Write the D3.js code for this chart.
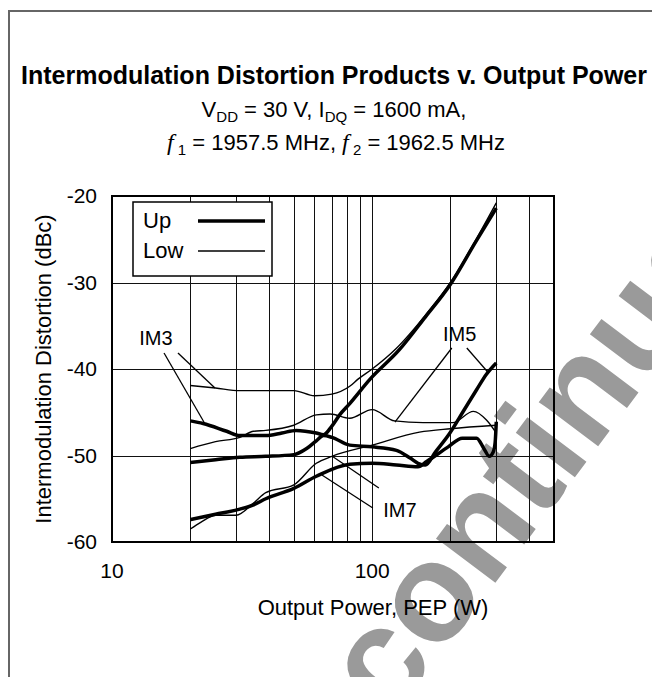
<!DOCTYPE html>
<html>
<head>
<meta charset="utf-8">
<script src="https://cdn.jsdelivr.net/npm/d3@7"></script>
<style>
  body { margin: 0; background: #fff; }
  svg text { font-family: "Liberation Sans", Arial, sans-serif; fill: #000; }
</style>
</head>
<body>
<div id="chart"></div>
<script>
// tick values
var xTicks = [10, 100];
var xGrid = [20, 30, 40, 50, 60, 70, 80, 90, 100, 200, 300, 400];
var yTicks = [-60, -50, -40, -30, -20];

// [output power W, dBc]
var im3Up = [[20,-46.0],[22.4,-46.3],[27.6,-47.2],[31,-47.7],[39,-47.7],[45,-47.4],[51,-47.1],[61,-47.4],[65,-47.6],[70,-46.6],[75,-45.3],[82,-44.0],[98,-41.2],[127,-37.8],[160,-34.0],[200,-30.2],[250,-25.3],[300,-21.4]];
var im3Low = [[20,-41.9],[25,-42.2],[31,-42.5],[40,-42.5],[50,-42.5],[60,-43.1],[70,-42.9],[82,-42.0],[88,-41.2],[100,-40.0],[124,-37.6],[160,-33.8],[200,-30.0],[250,-25.1],[300,-20.8]];
var im5Up = [[20,-50.8],[25,-50.5],[31,-50.2],[39,-50.1],[50,-49.9],[56,-49.2],[61,-48.3],[65,-47.7],[70,-47.9],[82,-48.8],[100,-49.0],[124,-49.4],[140,-50.3],[150,-50.9],[160,-51.1],[175,-49.6],[199,-47.4],[225,-44.8],[252,-42.4],[275,-40.6],[300,-39.3]];
var im5Low = [[20,-49.2],[25,-48.4],[31,-47.9],[35,-47.2],[39,-47.1],[50,-46.5],[61,-45.3],[69,-45.2],[82,-45.7],[100,-44.7],[122,-46.0],[157,-46.2],[204,-46.2],[245,-44.9],[275,-45.9],[300,-47.4]];
var im7Up = [[20,-57.4],[25,-56.8],[31,-56.2],[35,-55.7],[39,-55.0],[50,-53.8],[61,-52.4],[82,-51.0],[100,-50.9],[124,-51.1],[150,-51.3],[162,-50.7],[196,-49.0],[222,-48.0],[252,-48.0],[270,-49.3],[282,-50.1],[292,-49.6],[297,-48.5],[300,-46.1]];
var im7Low = [[20,-58.5],[22,-57.7],[25,-56.9],[30,-56.9],[35,-55.5],[39,-54.3],[50,-53.4],[61,-50.9],[70,-50.1],[100,-48.8],[152,-47.3],[200,-46.9],[300,-46.5]];

// callout labels and their leader lines, in data units
var callouts = [
  {label: 'IM3', at: [14.76, -37.2], leaders: [[[15.85,-38.15],[22.56,-46.13]], [[17.93,-38.15],[24.87,-42.2]]]},
  {label: 'IM5', at: [217, -36.8], leaders: [[[202.4,-37.57],[122.3,-46.13]], [[231.1,-37.57],[278.2,-40.35]]]},
  {label: 'IM7', at: [127.8, -57.1], leaders: [[[70.0,-50.06],[106.1,-53.76]], [[64.1,-52.25],[100.6,-56.07]]]}
];

function drawChart() {
  var width = 652, height = 677;
  var pLeft = 112, pRight = 554, pTop = 196, pBottom = 542;

  var svg = d3.select('#chart').append('svg')
    .attr('width', width)
    .attr('height', height);

  // watermark sits behind everything
  svg.append('text')
    .attr('transform', 'translate(260,895) rotate(-53)')
    .style('font-size', '140px').style('font-weight', 'bold')
    .style('fill', '#9a9a9a')
    .text('Discontinued');

  // outer frame (top and left edges only show)
  svg.append('path')
    .attr('d', 'M9,' + height + 'V11H' + width)
    .attr('fill', 'none')
    .attr('stroke', '#666')
    .attr('stroke-width', 2);

  var x = d3.scaleLog().domain([10, 500]).range([pLeft, pRight]);
  var y = d3.scaleLinear().domain([-60, -20]).range([pBottom, pTop]);

  // titles
  svg.append('text')
    .attr('x', 334).attr('y', 84)
    .attr('text-anchor', 'middle')
    .style('font-size', '25px').style('font-weight', 'bold')
    .text('Intermodulation Distortion Products v. Output Power');

  var sub1 = svg.append('text')
    .attr('x', 334).attr('y', 117)
    .attr('text-anchor', 'middle')
    .style('font-size', '22px');
  sub1.append('tspan').text('V');
  sub1.append('tspan').attr('dy', 5).style('font-size', '15px').text('DD');
  sub1.append('tspan').attr('dy', -5).text(' = 30 V, I');
  sub1.append('tspan').attr('dy', 5).style('font-size', '15px').text('DQ');
  sub1.append('tspan').attr('dy', -5).text(' = 1600 mA,');

  var sub2 = svg.append('text')
    .attr('x', 336).attr('y', 150)
    .attr('text-anchor', 'middle')
    .style('font-size', '22px');
  sub2.append('tspan').style('font-family', '"Liberation Serif", serif').style('font-style', 'italic').style('font-size', '24px').text('f');
  sub2.append('tspan').attr('dy', 5).style('font-size', '15px').text(' 1');
  sub2.append('tspan').attr('dy', -5).text(' = 1957.5 MHz, ');
  sub2.append('tspan').style('font-family', '"Liberation Serif", serif').style('font-style', 'italic').style('font-size', '24px').text('f');
  sub2.append('tspan').attr('dy', 5).style('font-size', '15px').text(' 2');
  sub2.append('tspan').attr('dy', -5).text(' = 1962.5 MHz');

  // grid
  var grid = svg.append('g');
  grid.selectAll('.vgrid')
    .data(xGrid)
    .enter().append('line')
    .attr('class', 'vgrid')
    .attr('x1', function(d) { return Math.round(x(d)) + 0.5; })
    .attr('x2', function(d) { return Math.round(x(d)) + 0.5; })
    .attr('y1', pTop).attr('y2', pBottom)
    .attr('stroke', '#111').attr('stroke-width', 1);

  grid.selectAll('.hgrid')
    .data(yTicks.slice(1, -1))
    .enter().append('line')
    .attr('class', 'hgrid')
    .attr('x1', pLeft).attr('x2', pRight)
    .attr('y1', function(d) { return Math.round(y(d)) + 0.5; })
    .attr('y2', function(d) { return Math.round(y(d)) + 0.5; })
    .attr('stroke', '#111').attr('stroke-width', 1);

  // tick labels
  svg.selectAll('.ylab')
    .data(yTicks)
    .enter().append('text')
    .attr('class', 'ylab')
    .attr('x', 97)
    .attr('y', function(d) { return y(d); })
    .attr('dy', '0.35em')
    .attr('text-anchor', 'end')
    .style('font-size', '21px')
    .text(function(d) { return d; });

  svg.selectAll('.xlab')
    .data(xTicks)
    .enter().append('text')
    .attr('class', 'xlab')
    .attr('x', function(d) { return x(d); })
    .attr('y', 578)
    .attr('text-anchor', 'middle')
    .style('font-size', '21px')
    .text(function(d) { return d; });

  svg.append('text')
    .attr('x', 373).attr('y', 615)
    .attr('text-anchor', 'middle')
    .style('font-size', '22px')
    .text('Output Power, PEP (W)');

  svg.append('text')
    .attr('transform', 'translate(51,' + ((pTop + pBottom) / 2) + ') rotate(-90)')
    .attr('text-anchor', 'middle')
    .style('font-size', '22px')
    .text('Intermodulation Distortion (dBc)');

  // curves
  var line = d3.line()
    .x(function(d) { return x(d[0]); })
    .y(function(d) { return y(d[1]); })
    .curve(d3.curveMonotoneX);

  var series = [
    {data: im3Low, w: 1.4}, {data: im5Low, w: 1.4}, {data: im7Low, w: 1.4},
    {data: im3Up, w: 3.5}, {data: im5Up, w: 3.5}, {data: im7Up, w: 3.5}
  ];

  svg.append('g').selectAll('path')
    .data(series)
    .enter().append('path')
    .attr('d', function(d) { return line(d.data); })
    .attr('fill', 'none')
    .attr('stroke', '#000')
    .attr('stroke-width', function(d) { return d.w; })
    .attr('stroke-linejoin', 'round');

  // callouts
  var co = svg.append('g');
  callouts.forEach(function(c) {
    co.append('text')
      .attr('x', x(c.at[0])).attr('y', y(c.at[1]))
      .attr('text-anchor', 'middle')
      .style('font-size', '20px')
      .text(c.label);
    c.leaders.forEach(function(l) {
      co.append('line')
        .attr('x1', x(l[0][0])).attr('y1', y(l[0][1]))
        .attr('x2', x(l[1][0])).attr('y2', y(l[1][1]))
        .attr('stroke', '#000').attr('stroke-width', 1.3);
    });
  });

  // plot frame
  svg.append('rect')
    .attr('x', pLeft).attr('y', pTop)
    .attr('width', pRight - pLeft).attr('height', pBottom - pTop)
    .attr('fill', 'none')
    .attr('stroke', '#000')
    .attr('stroke-width', 2);

  // legend
  var legend = svg.append('g');
  legend.append('rect')
    .attr('x', 133).attr('y', 202)
    .attr('width', 139).attr('height', 74)
    .attr('fill', '#fff')
    .attr('stroke', '#000').attr('stroke-width', 1.5);
  [{name: 'Up', w: 3.5, yy: 228}, {name: 'Low', w: 1.4, yy: 258}].forEach(function(d) {
    legend.append('text')
      .attr('x', 143).attr('y', d.yy)
      .style('font-size', '22px')
      .text(d.name);
    legend.append('line')
      .attr('x1', 198).attr('x2', 265)
      .attr('y1', d.yy - 7).attr('y2', d.yy - 7)
      .attr('stroke', '#000').attr('stroke-width', d.w);
  });
}

drawChart();
</script>
</body>
</html>
